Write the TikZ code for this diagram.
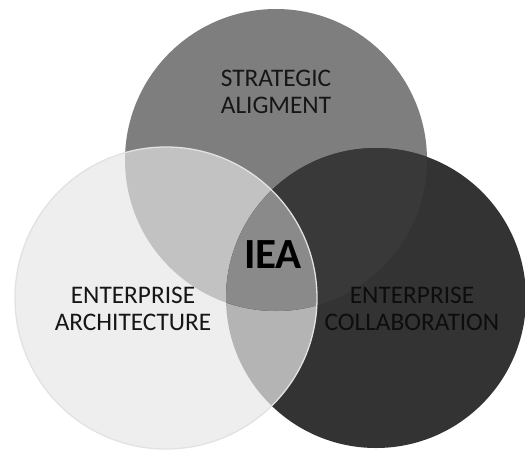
\documentclass[tikz,border=0pt]{standalone}
\usepackage{fontspec}
\setmainfont{Carlito}
\definecolor{topc}{HTML}{7E7E7E}
\definecolor{rightc}{HTML}{333333}
\definecolor{leftc}{HTML}{EEEEEE}
\definecolor{tlc}{HTML}{C2C2C2}
\definecolor{lrc}{HTML}{B4B4B4}
\definecolor{trc}{HTML}{393939}
\definecolor{allc}{HTML}{8A8A8A}
\definecolor{edgec}{HTML}{E2E2E2}
\definecolor{txt}{HTML}{161616}
\begin{document}
\begin{tikzpicture}[x=1pt,y=-1pt,
  lbl/.style={font=\fontsize{25.3}{26.5}\selectfont, text=txt, align=center, inner sep=0pt},
  rlbl/.style={lbl, text=black!95},
  core/.style={font=\fontsize{43}{46}\selectfont\bfseries, text=black, inner sep=0pt}]
\useasboundingbox[fill=white] (0,0) rectangle (525,453);
\coordinate (T) at (276,160);
\coordinate (L) at (166,298);
\coordinate (R) at (376,298);
\def\rT{151pt}\def\rL{151pt}\def\rR{150pt}
% base circles
\fill[topc] (T) circle[radius=\rT];
\fill[rightc] (R) circle[radius=\rR];
\fill[leftc] (L) circle[radius=\rL];
% pairwise overlaps
\begin{scope}\clip (T) circle[radius=\rT]; \fill[tlc] (L) circle[radius=\rL];\end{scope}
\begin{scope}\clip (L) circle[radius=\rL]; \fill[lrc] (R) circle[radius=\rR];\end{scope}
\begin{scope}\clip (T) circle[radius=\rT]; \fill[trc] (R) circle[radius=\rR];\end{scope}
% triple overlap
\begin{scope}\clip (T) circle[radius=\rT]; \clip (L) circle[radius=\rL]; \fill[allc] (R) circle[radius=\rR];\end{scope}
% light rim of left circle
\draw[edgec, line width=1.3pt] (L) circle[radius=\rL];
% labels
\node[lbl] (sa) at (276,92) {STRATEGIC\\ALIGMENT};
\node[lbl] (ea) at (133,309) {ENTERPRISE\\ARCHITECTURE};
\node[rlbl] (ec) at (412,309) {ENTERPRISE\\COLLABORATION};
\node[core] (iea) at (273,255) {IEA};
\end{tikzpicture}
\end{document}
